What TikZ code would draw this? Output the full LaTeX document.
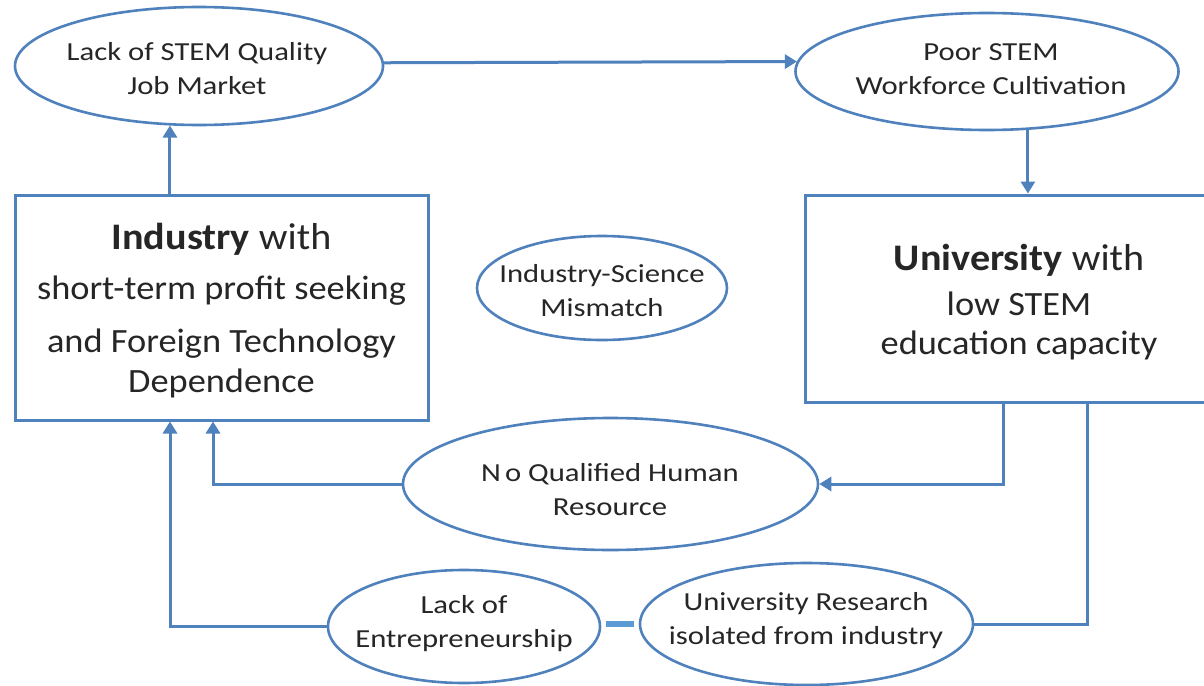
\documentclass[tikz,border=0pt]{standalone}
\usepackage{fontspec}
\setmainfont{Carlito}
\newfontfamily\efont[FakeStretch=1.18]{Carlito}
\newfontfamily\bxfont[FakeStretch=1.07]{Carlito}
\usetikzlibrary{shapes.geometric,arrows.meta}
\definecolor{bl}{HTML}{4F81BD}
\definecolor{lbl}{HTML}{5B9BD5}
\tikzset{
  ell/.style={draw=bl, line width=2.6pt, ellipse, inner sep=0pt},
  boxn/.style={draw=bl, line width=3pt, rectangle, inner sep=0pt},
  etxt/.style={align=center, inner sep=0pt, text=black!85, font={\efont\fontsize{26}{34}\selectfont}},
  btxt/.style={align=center, inner sep=0pt, text=black!85},
  arr/.style={draw=bl, line width=3pt, -{Triangle[length=12pt,width=14pt]}},
  ln/.style={draw=bl, line width=3pt},
  dashln/.style={draw=lbl, line width=6pt},
}
\newcommand{\bigline}{\fontsize{37.5}{40}\selectfont}
\begin{document}
\begin{tikzpicture}[x=1pt,y=-1pt]
\useasboundingbox[fill=white] (0,0) rectangle (1204,685);
% ellipses
\node[ell, minimum width=368pt, minimum height=118pt] (jm) at (199,66) {};
\node[etxt] (jmt) at (197,69) {Lack of STEM Quality\\Job Market};
\node[ell, minimum width=383pt, minimum height=117pt] (pw) at (987,71.5) {};
\node[etxt] (pwt) at (991,69) {Poor STEM\\Workforce Cultivation};
\node[ell, minimum width=250pt, minimum height=104pt] (ism) at (602,288) {};
\node[etxt] (ismt) at (602,291) {Industry-Science\\Mismatch};
\node[ell, minimum width=415pt, minimum height=132pt] (nq) at (610.5,484) {};
\node[etxt] (nqt) at (610,490) {N\kern4pt o Qualified Human\\Resource};
\node[ell, minimum width=272pt, minimum height=113pt] (ent) at (464,626.5) {};
\node[etxt] (entt) at (464,624) {Lack of\\Entrepreneurship};
\node[ell, minimum width=333pt, minimum height=122pt] (ur) at (806.5,624) {};
\node[etxt] (urt) at (806,621) {University Research\\isolated from industry};
% boxes
\node[boxn, minimum width=413pt, minimum height=225pt] (ind) at (221.5,307.5) {};
\node[btxt, font={\bxfont\fontsize{34}{40}\selectfont}] (indt) at (221.5,311)
  {{\bigline\textbf{Industry} with}\\[10pt]short-term profit seeking\\[13pt]and Foreign Technology\\Dependence};
\node[boxn, minimum width=425pt, minimum height=207pt] (uni) at (1017.5,298.5) {};
\node[btxt, font={\bxfont\fontsize{34}{39}\selectfont}] (unit) at (1019,302)
  {{\bigline\textbf{University} with}\\[6pt]low STEM\\education capacity};
% connectors
\draw[arr] (jm.1) -- (pw.177);
\draw[arr] (pw.-55) -- (pw.-55 |- uni.north);
\draw[arr] (jm.-116 |- ind.north) -- (jm.-116);
\draw[arr] ([xshift=-14.5pt]uni.south) |- (nq.east);
\draw[arr] (nq.west) -| ([xshift=-8.5pt]ind.south);
\draw[arr] (ent.west) -| ([xshift=-51.5pt]ind.south);
\draw[ln] ([xshift=69.5pt]uni.south) |- (ur.east);
\draw[dashln] ([xshift=5pt]ur.west -| ent.east) -- ([xshift=-5pt]ur.west);
\end{tikzpicture}
\end{document}
